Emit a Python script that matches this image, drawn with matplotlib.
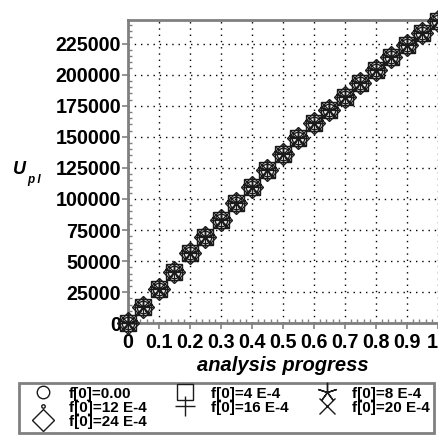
import matplotlib
matplotlib.use("Agg")
import matplotlib.pyplot as plt
from matplotlib.ticker import MultipleLocator
from matplotlib.patches import Rectangle

# ---- data (all curves coincide) ----
progress = [0.0, 0.05, 0.1, 0.15, 0.2, 0.25, 0.3, 0.35, 0.4, 0.45, 0.5,
            0.55, 0.6, 0.65, 0.7, 0.75, 0.8, 0.85, 0.9, 0.95, 1.0]
upl = [0, 13300, 27300, 41500, 56300, 69600, 83000, 96500, 110000, 123000,
       136500, 148700, 160800, 171500, 182000, 193000, 203700, 214300,
       223800, 233200, 243000]
series_labels = ["f[0]=0.00", "f[0]=4 E-4", "f[0]=8 E-4", "f[0]=12 E-4",
                 "f[0]=16 E-4", "f[0]=20 E-4", "f[0]=24 E-4"]
xticks = [0, 0.1, 0.2, 0.3, 0.4, 0.5, 0.6, 0.7, 0.8, 0.9, 1.0]
xticklabels = ["0", "0.1", "0.2", "0.3", "0.4", "0.5", "0.6", "0.7", "0.8", "0.9", "1"]
yticks = [0, 25000, 50000, 75000, 100000, 125000, 150000, 175000, 200000, 225000]

markers = ["o", "s", (5, 2, 0), ".", "+", "x", "D"]
msizes = [9, 12, 14, 5, 14, 12, 11]

plt.rcParams["font.family"] = ["Liberation Sans", "DejaVu Sans"]
fig = plt.figure(figsize=(4.39, 4.47), dpi=100)
ax = fig.add_axes([128 / 439, 123.7 / 447, 310 / 439, 303.3 / 447])

# invisible frame keeping the full canvas extent
fig.patches.append(Rectangle((10 / 439, 10 / 447), 419 / 439, 427 / 447,
                             transform=fig.transFigure, fill=False,
                             edgecolor="none", linewidth=0))

mcol = "#1a1a1a"
handles = []
for lab, m, ms in zip(series_labels, markers, msizes):
    h, = ax.plot(progress, upl, linestyle="none", marker=m, markersize=ms,
                 markerfacecolor="none", markeredgecolor=mcol,
                 markeredgewidth=1.0, label=lab, clip_on=False, zorder=3)
    h.set_in_layout(False)
    handles.append(h)

ax.set_xlim(0, 1.0)
ax.set_ylim(0, 244000)
ax.set_xticks(xticks)
ax.set_xticklabels(xticklabels)
ax.set_yticks(yticks)
ax.set_yticklabels([str(v) for v in yticks])
ax.xaxis.set_minor_locator(MultipleLocator(0.02))
ax.yaxis.set_minor_locator(MultipleLocator(5000))

for lbl in ax.get_xticklabels() + ax.get_yticklabels():
    lbl.set_fontweight("bold")
    lbl.set_fontsize(14.2)
ax.get_xticklabels()[-1].set_horizontalalignment("right")

gray = "#808080"
ax.tick_params(axis="both", which="major", direction="out", length=4,
               width=1.2, color=gray, pad=1)
ax.tick_params(axis="both", which="minor", direction="in", length=3,
               width=1.0, color=gray)
ax.tick_params(axis="x", which="major", pad=3)
for s in ["left", "bottom", "top"]:
    ax.spines[s].set_color(gray)
    ax.spines[s].set_linewidth(2)
ax.spines["right"].set_visible(False)

ax.grid(True, which="major", color="black", linestyle=(0, (1, 3.5)), linewidth=1.0)
ax.set_axisbelow(True)

ax.set_xlabel("analysis progress", fontsize=14.5, fontweight="bold",
              fontstyle="italic", labelpad=3)

fig.text(13 / 439, 1 - 174 / 447, "U", fontsize=13, fontweight="bold",
         fontstyle="italic", ha="left", va="baseline")
fig.text(27 / 439, 1 - 183 / 447, "p l", fontsize=8.5, fontweight="bold",
         fontstyle="italic", ha="left", va="baseline")

order = [0, 3, 6, 1, 4, 2, 5]
leg = fig.legend([handles[i] for i in order], [series_labels[i] for i in order],
                 ncol=3, loc="upper left", bbox_to_anchor=(19 / 439, 1 - 383 / 447),
                 fancybox=False, frameon=True, edgecolor=gray, framealpha=1,
                 prop={"weight": "bold", "size": 11}, handlelength=2.7,
                 handletextpad=0.3, columnspacing=1.2, labelspacing=0.0,
                 borderpad=0.25, borderaxespad=0)
leg.get_frame().set_linewidth(2)

fig.savefig("out.png", dpi=100)
